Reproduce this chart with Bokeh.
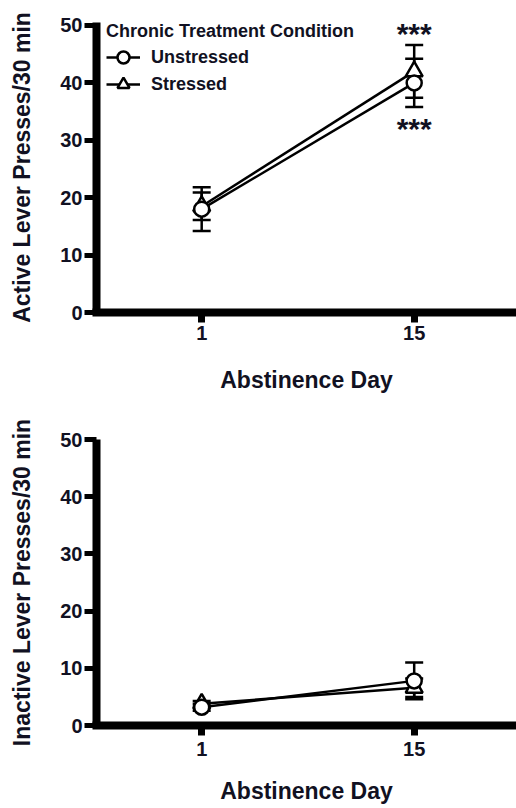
from bokeh.plotting import figure
from bokeh.models import Whisker, ColumnDataSource, Legend, LegendItem, FixedTicker, Range1d, TeeHead
from bokeh.layouts import column
from bokeh.embed import file_html
from bokeh.resources import INLINE
from bokeh.core.properties import value

# ---- data ----
days = [1, 15]
x_ticks = [1, 15]
y_ticks = [0, 10, 20, 30, 40, 50]

active_unstressed = [18, 40]
active_unstressed_sem = [3.8, 4.2]
active_stressed = [18.5, 42]
active_stressed_sem = [2.4, 4.6]

inactive_unstressed = [3.2, 7.8]
inactive_unstressed_sem = [0.6, 3.2]
inactive_stressed = [3.8, 6.6]
inactive_stressed_sem = [0.5, 1.6]

sig_labels = ["***", "***"]
sig_day = [15, 15]
sig_y = [48.6, 32]

FONT = "Liberation Sans"
TXT = "#111122"


def style_axes(p, xl_standoff, xlab_standoff):
    for ax in (p.xaxis[0], p.yaxis[0]):
        ax.axis_line_width = 8
        ax.axis_line_color = "black"
        ax.major_tick_line_color = "black"
        ax.major_tick_in = 0
        ax.minor_tick_line_color = None
        ax.major_label_text_font = FONT
        ax.major_label_text_font_style = "bold"
        ax.major_label_text_font_size = "20px"
        ax.major_label_text_color = TXT
        ax.axis_label_text_font = FONT
        ax.axis_label_text_font_style = "bold"
        ax.axis_label_text_font_size = "23px"
        ax.axis_label_text_color = TXT
    p.xaxis[0].axis_line_cap = "square"
    p.yaxis[0].axis_line_cap = "butt"
    p.xaxis[0].ticker = FixedTicker(ticks=x_ticks)
    p.yaxis[0].ticker = FixedTicker(ticks=y_ticks)
    p.xaxis[0].major_tick_out = 10
    p.xaxis[0].major_tick_line_width = 7
    p.xaxis[0].major_label_standoff = xlab_standoff
    p.xaxis[0].axis_label_standoff = xl_standoff
    p.yaxis[0].major_tick_out = 12
    p.yaxis[0].major_tick_line_width = 5
    p.yaxis[0].major_label_standoff = 2
    p.yaxis[0].axis_label_standoff = 22
    p.xgrid.grid_line_color = None
    p.ygrid.grid_line_color = None
    p.outline_line_color = None


def make_legend(items, loc, title=None):
    kw = dict(items=items, location=loc, padding=0, margin=0, spacing=0,
              glyph_width=34, glyph_height=30, label_standoff=11,
              background_fill_alpha=0, border_line_alpha=0,
              label_text_font=FONT, label_text_font_style="bold",
              label_text_font_size="18px", label_text_color=TXT)
    if title:
        kw.update(title=title, title_standoff=0, title_text_font=FONT,
                  title_text_font_style="bold", title_text_font_size="18px",
                  title_text_color=TXT)
    return Legend(**kw)


def panel(ylabel, unst, unst_sem, st, st_sem, height, b_left, b_top, b_bottom,
          y_end, xl_standoff, xlab_standoff, with_legend=False, with_sig=False):
    p = figure(width=516, height=height, output_backend="svg", toolbar_location=None,
               x_range=Range1d(-5.93, 21.74), y_range=Range1d(0, y_end),
               min_border_left=b_left, min_border_right=0, min_border_top=b_top,
               min_border_bottom=b_bottom,
               x_axis_label="Abstinence Day", y_axis_label=ylabel)
    style_axes(p, xl_standoff, xlab_standoff)

    for vals, sem in ((unst, unst_sem), (st, st_sem)):
        src = ColumnDataSource(dict(x=days,
                                    upper=[v + s for v, s in zip(vals, sem)],
                                    lower=[v - s for v, s in zip(vals, sem)]))
        w = Whisker(base="x", upper="upper", lower="lower", source=src,
                    line_width=2.5, line_color="black",
                    upper_head=TeeHead(size=18, line_width=2.5, line_color="black"),
                    lower_head=TeeHead(size=18, line_width=2.5, line_color="black"))
        p.add_layout(w)

    l1 = p.line(days, unst, line_color="black", line_width=2.5)
    l2 = p.line(days, st, line_color="black", line_width=2.5)
    s2 = p.scatter(days, st, marker="triangle", size=17, fill_color="white",
                   line_color="black", line_width=2.5)
    s1 = p.scatter(days, unst, marker="circle", size=15, fill_color="white",
                   line_color="black", line_width=2.5)

    if with_sig:
        p.text(x=sig_day, y=sig_y, text=sig_labels, text_align="center",
               text_baseline="middle", text_font=value(FONT), text_font_size="30px",
               text_font_style="bold", text_color=TXT)

    if with_legend:
        leg1 = make_legend([LegendItem(label="Unstressed", renderers=[l1, s1])], (10, 240),
                           title="Chronic Treatment Condition")
        leg2 = make_legend([LegendItem(label="Stressed", renderers=[l2, s2])], (10, 213))
        p.add_layout(leg1, "center")
        p.add_layout(leg2, "center")
    return p


p1 = panel("Active Lever Presses/30 min", active_unstressed, active_unstressed_sem,
           active_stressed, active_stressed_sem, 400, 93, 22, 88, 50.52, 24, 3,
           with_legend=True, with_sig=True)
p2 = panel("Inactive Lever Presses/30 min", inactive_unstressed, inactive_unstressed_sem,
           inactive_stressed, inactive_stressed_sem, 406, 96, 39, 81, 50, 19, 6)

layout = column(p1, p2, spacing=0)
open("out.html", "w").write(file_html(layout, INLINE))
